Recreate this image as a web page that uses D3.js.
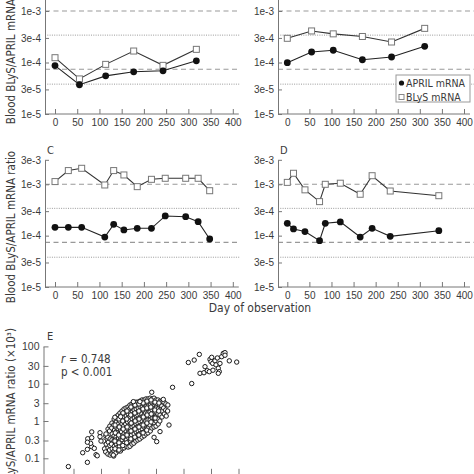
<!DOCTYPE html>
<html><head><meta charset="utf-8">
<script src="https://cdn.jsdelivr.net/npm/d3@7"></script>
<style>
html,body{margin:0;padding:0;background:#fff;}
svg{display:block;font-family:'Liberation Sans Narrow','DejaVu Sans Condensed','Liberation Sans',sans-serif;}
</style></head><body>
<svg id="chart" width="474" height="474"></svg>
<script>
// ---------- data ----------
const dayTicks = [0,50,100,150,200,250,300,350,400];
const ratioTicksTop = [1e-5,3e-5,1e-4,3e-4,1e-3];
const ratioTicksMid = [1e-5,3e-5,1e-4,3e-4,1e-3,3e-3];
const ratioTickLabels = ["1e-5","3e-5","1e-4","3e-4","1e-3","3e-3"];
const refDashed = [1e-3, 7.4e-5];
const refDotted = [3.4e-4, 3.8e-5];

const daysA  = [0,55,114,177,243,318];
const aprilA = [8.7e-5,3.7e-5,5.5e-5,6.6e-5,6.9e-5,1.08e-4];
const blysA  = [1.24e-4,4.8e-5,9.2e-5,1.67e-4,8.8e-5,1.8e-4];

const daysB  = [0,55,104,170,236,311];
const aprilB = [9.9e-5,1.6e-4,1.73e-4,1.13e-4,1.28e-4,2.06e-4];
const blysB  = [2.95e-4,4.1e-4,3.6e-4,3.2e-4,2.5e-4,4.6e-4];

const daysC  = [0,30,60,112,132,155,185,217,248,294,322,348];
const aprilC = [1.45e-4,1.45e-4,1.45e-4,9.4e-5,1.66e-4,1.29e-4,1.39e-4,1.39e-4,2.42e-4,2.34e-4,1.87e-4,8.6e-5];
const blysC  = [1.13e-3,1.85e-3,2.05e-3,9.7e-4,1.85e-3,1.52e-3,9.0e-4,1.25e-3,1.31e-3,1.31e-3,1.31e-3,7.5e-4];

const daysD  = [0,14,40,73,86,120,165,192,233,343];
const aprilD = [1.74e-4,1.35e-4,1.2e-4,8.0e-5,1.74e-4,1.85e-4,9.4e-5,1.39e-4,9.7e-5,1.25e-4];
const blysD  = [1.09e-3,1.64e-3,7.8e-4,4.6e-4,1.0e-3,1.05e-3,6.4e-4,1.47e-3,7.4e-4,6.0e-4];

const legendLabels = ["APRIL mRNA","BLyS mRNA"];
const yTitle = "Blood BLyS/APRIL mRNA ratio";
const xTitle = "Day of observation";

const scatterYTicks = [100,30,10,3,1,0.3,0.1];
const scatterXTicks = [0.01,0.1,1,10,100,1000,10000];
const scatterR = "r";
const scatterRValue = "= 0.748";
const scatterP = "p < 0.001";
const scatterPoints = [
 [0.125,0.29],[0.135,0.18],
 [0.15,0.40],[0.155,0.24],[0.148,0.148],
 [0.18,0.61],[0.175,0.37],[0.185,0.27],[0.18,0.19],[0.178,0.13],
 [0.21,0.73],[0.205,0.54],[0.215,0.33],[0.21,0.22],[0.205,0.167],[0.215,0.122],
 [0.25,0.88],[0.245,0.65],[0.255,0.45],[0.25,0.31],[0.24,0.24],[0.255,0.18],[0.25,0.13],
 [0.30,1.13],[0.29,0.78],[0.31,0.57],[0.30,0.40],[0.295,0.29],[0.305,0.21],[0.30,0.157],[0.29,0.115],
 [0.35,1.28],[0.36,0.94],[0.345,0.69],[0.355,0.51],[0.35,0.37],[0.34,0.31],[0.36,0.24],[0.35,0.18],[0.345,0.139],
 [0.42,1.45],[0.41,1.13],[0.43,0.83],[0.42,0.61],[0.41,0.48],[0.43,0.35],[0.42,0.27],[0.41,0.20],[0.43,0.157],
 [0.49,1.64],[0.5,1.28],[0.48,1.0],[0.49,0.73],[0.51,0.57],[0.48,0.45],[0.5,0.37],[0.49,0.29],[0.47,0.21],[0.51,0.157],
 [0.58,1.85],[0.57,1.45],[0.59,1.06],[0.58,0.83],[0.6,0.65],[0.56,0.51],[0.58,0.40],[0.59,0.31],[0.57,0.24],[0.58,0.18],
 [0.69,2.1],[0.68,1.64],[0.7,1.28],[0.69,0.94],[0.67,0.73],[0.71,0.57],[0.69,0.45],[0.68,0.35],[0.7,0.255],[0.69,0.19],
 [0.81,2.23],[0.8,1.74],[0.83,1.36],[0.81,1.06],[0.79,0.83],[0.82,0.65],[0.81,0.54],[0.8,0.42],[0.83,0.31],[0.81,0.21],
 [0.96,2.37],[0.94,1.97],[0.98,1.54],[0.96,1.2],[0.93,0.94],[0.97,0.73],[0.95,0.61],[0.99,0.48],[0.96,0.37],[0.94,0.27],[0.97,0.20],
 [1.13,2.68],[1.1,2.1],[1.16,1.64],[1.13,1.28],[1.11,1.0],[1.15,0.78],[1.12,0.65],[1.14,0.51],[1.1,0.40],[1.16,0.29],[1.13,0.21],
 [1.34,2.86],[1.3,2.23],[1.37,1.74],[1.33,1.45],[1.36,1.13],[1.31,0.88],[1.35,0.69],[1.34,0.54],[1.3,0.42],[1.38,0.33],[1.34,0.24],
 [1.58,3.0],[1.55,2.52],[1.6,1.97],[1.57,1.54],[1.62,1.2],[1.56,0.94],[1.59,0.73],[1.55,0.57],[1.6,0.45],[1.58,0.35],[1.56,0.255],
 [1.87,3.2],[1.83,2.52],[1.9,2.1],[1.86,1.64],[1.92,1.36],[1.85,1.06],[1.88,0.83],[1.84,0.65],[1.9,0.51],[1.87,0.37],[1.85,0.29],
 [2.2,3.2],[2.15,2.68],[2.25,2.23],[2.2,1.74],[2.17,1.45],[2.23,1.13],[2.2,0.88],[2.16,0.69],[2.24,0.54],[2.2,0.42],[2.18,0.31],
 [2.6,3.4],[2.55,2.86],[2.65,2.37],[2.6,1.85],[2.57,1.54],[2.63,1.2],[2.6,0.94],[2.55,0.73],[2.66,0.57],[2.6,0.45],[2.58,0.33],
 [3.1,3.66],[3.05,3.0],[3.15,2.37],[3.1,1.97],[3.06,1.54],[3.14,1.28],[3.1,1.0],[3.04,0.78],[3.16,0.61],[3.1,0.48],[3.08,0.37],
 [3.7,3.66],[3.6,2.86],[3.75,2.23],[3.68,1.85],[3.72,1.45],[3.65,1.13],[3.7,0.88],[3.62,0.69],[3.78,0.51],[3.7,0.40],
 [4.3,3.9],[4.2,3.2],[4.4,2.52],[4.3,1.97],[4.25,1.64],[4.35,1.28],[4.3,1.0],[4.2,0.78],[4.4,0.61],[4.3,0.45],
 [5.1,3.9],[5.0,3.0],[5.2,2.52],[5.1,2.1],[5.05,1.64],[5.15,1.36],[5.1,1.06],[5.0,0.83],[5.2,0.65],[5.1,0.48],
 [6.1,4.1],[6.0,3.4],[6.2,2.68],[6.1,2.1],[6.05,1.74],[6.15,1.36],[6.1,1.06],[6.0,0.78],[6.2,0.54],
 [7.2,3.9],[7.1,3.2],[7.3,2.52],[7.2,1.97],[7.1,1.54],[7.3,1.2],[7.2,0.94],[7.1,0.65],
 [8.5,4.1],[8.4,3.4],[8.6,2.68],[8.5,2.1],[8.4,1.64],[8.6,1.2],[8.5,0.88],[8.4,0.69],
 [10,3.66],[9.8,2.86],[10.2,2.23],[10,1.74],[9.9,1.28],[10.1,1.0],[10,0.73],
 [11.8,3.66],[11.6,2.86],[12,2.1],[11.8,1.54],[11.6,1.13],[12,0.83],
 [14,3.4],[13.7,2.68],[14.2,1.97],[14,1.45],[13.8,1.0],
 [16.5,3.4],[16.2,2.52],[16.8,1.85],[16.5,1.28],
 [19.5,3.2],[19,2.23],[20,1.54],
 [23,2.86],[22.5,1.97],[23.5,1.36],
 [27,2.68],[26.5,1.85],
 // in-between points of the dense core
 [0.325,0.78],[0.33,0.48],[0.32,0.29],[0.325,0.18],
 [0.45,1.13],[0.46,0.69],[0.44,0.42],[0.45,0.26],[0.45,0.167],
 [0.63,1.64],[0.62,1.0],[0.64,0.61],[0.63,0.37],[0.62,0.22],
 [0.88,1.85],[0.87,1.13],[0.89,0.69],[0.88,0.42],[0.86,0.26],
 [1.23,2.37],[1.21,1.45],[1.25,0.88],[1.23,0.54],[1.22,0.33],
 [1.72,2.68],[1.7,1.64],[1.74,1.0],[1.72,0.61],[1.7,0.37],
 [2.4,2.86],[2.38,1.85],[2.42,1.13],[2.4,0.69],[2.37,0.42],
 [3.4,3.04],[3.35,2.1],[3.45,1.28],[3.4,0.78],[3.38,0.48],
 [4.7,3.4],[4.65,2.23],[4.75,1.45],[4.7,0.88],[4.6,0.57],
 [6.6,3.66],[6.5,2.37],[6.7,1.54],[6.6,0.94],
 [9.2,3.2],[9.1,1.97],[9.3,1.2],
 [12.8,3.04],[12.6,1.85],
 // outliers and upper group
 [0.0065,0.060],[0.032,0.078],[0.0216,0.141],[0.032,0.174],[0.046,0.205],[0.042,0.252],
 [0.033,0.335],[0.046,0.357],[0.046,0.51],[0.092,0.485],[0.057,0.185],[0.066,0.125],
 [0.073,0.117],[0.1,0.29],[0.152,0.45],[0.32,1.26],[0.52,1.30],[1.5,3.3],[2.6,3.3],
 [0.28,0.122],[29.7,0.78],[10.6,0.28],[8.5,0.365],[14,0.52],[18.4,3.8],[7.0,5.9],
 [40,8.0],[199,10.1],[150,37],[245,43],[376,61],[398,19],[556,19.7],[605,28.6],
 [733,22.3],[867,21],[920,45],[1000,39],[1060,51],[1150,35],[1400,41],[1520,32],
 [1700,49],[1840,26],[2000,21],[1840,19],[2120,35],[2450,53],[2800,65],[3230,68],
 [3230,58],[4630,41],[8600,38],[1180,23],[0.092,0.38],[0.032,0.27]
];

// ---------- drawing ----------
const svg = d3.select("#chart");
const AX = "#777", TXT = "#3a3a3a", REF = "#999";

function ratioFmt(d){ return ratioTickLabels[ratioTicksMid.indexOf(d)]; }

function drawPanel(p){
  const x = d3.scaleLinear().domain([0,400]).range([p.x0, p.x400]);
  const y = d3.scaleLog().domain([1e-5,3e-3]).range([p.yBase, p.yBase - p.dec*Math.log10(300)]);
  const g = svg.append("g");
  g.selectAll("line.dash").data(refDashed).join("line")
    .attr("x1", p.axisX).attr("x2", p.right).attr("y1", d=>y(d)).attr("y2", d=>y(d))
    .attr("stroke", REF).attr("stroke-width", 1.1).attr("stroke-dasharray","5,3.5");
  g.selectAll("line.dot").data(refDotted).join("line")
    .attr("x1", p.axisX).attr("x2", p.right).attr("y1", d=>y(d)).attr("y2", d=>y(d))
    .attr("stroke", REF).attr("stroke-width", 1).attr("stroke-dasharray","1,1.3");
  const ya = g.append("g").attr("transform",`translate(${p.axisX},0)`)
    .call(d3.axisLeft(y).tickValues(p.ticks).tickFormat(ratioFmt).tickSize(-4).tickSizeOuter(0).tickPadding(4));
  const xa = g.append("g").attr("transform",`translate(0,${p.yBase})`)
    .call(d3.axisBottom(x).tickValues(dayTicks).tickSize(-5).tickSizeOuter(0).tickPadding(5));
  xa.select(".domain").remove();
  g.append("line").attr("x1",p.axisX).attr("x2",x(400)+6).attr("y1",p.yBase).attr("y2",p.yBase).attr("stroke",AX);
  [ya,xa].forEach(a=>{
    a.selectAll("path,line").attr("stroke",AX);
    a.selectAll("text").attr("fill",TXT).attr("font-size","10px");
  });
  const pts = (days, vals) => days.map((d,i)=>[x(d), y(vals[i])]);
  const lineGen = d3.line();
  g.append("path").attr("d", lineGen(pts(p.days,p.blys))).attr("fill","none").attr("stroke","#333").attr("stroke-width",1.1);
  g.append("path").attr("d", lineGen(pts(p.days,p.april))).attr("fill","none").attr("stroke","#222").attr("stroke-width",1.1);
  g.selectAll("rect.sq").data(p.days).join("rect")
    .attr("x",(d,i)=>x(d)-3).attr("y",(d,i)=>y(p.blys[i])-3).attr("width",6).attr("height",6)
    .attr("fill","#fff").attr("stroke","#777").attr("stroke-width",1);
  g.selectAll("circle.dt").data(p.days).join("circle")
    .attr("cx",d=>x(d)).attr("cy",(d,i)=>y(p.april[i])).attr("r",3.4).attr("fill","#111");
  if(p.label){
    g.append("text").attr("x",p.axisX+2).attr("y",p.yBase - p.dec*Math.log10(300) - 6)
      .attr("font-size","11px").attr("fill",TXT).text(p.label);
  }
}

drawPanel({days:daysA, april:aprilA, blys:blysA, ticks:ratioTicksTop, x0:55, x400:232.8, axisX:45, right:240, yBase:114, dec:51.5, label:null});
drawPanel({days:daysB, april:aprilB, blys:blysB, ticks:ratioTicksTop, x0:287.3, x400:464, axisX:278, right:474, yBase:114, dec:51.5, label:null});
drawPanel({days:daysC, april:aprilC, blys:blysC, ticks:ratioTicksMid, x0:55, x400:232.8, axisX:45, right:240, yBase:287, dec:51.35, label:"C"});
drawPanel({days:daysD, april:aprilD, blys:blysD, ticks:ratioTicksMid, x0:287.3, x400:464, axisX:278, right:474, yBase:287, dec:51.35, label:"D"});

// legend (panel B)
const lg = svg.append("g");
lg.append("rect").attr("x",396).attr("y",75).attr("width",74).attr("height",27)
  .attr("fill","#fff").attr("stroke","#999").attr("stroke-width",1);
lg.append("circle").attr("cx",401.5).attr("cy",83).attr("r",2.6).attr("fill","#111");
lg.append("rect").attr("x",399).attr("y",94.5).attr("width",5).attr("height",5).attr("fill","#fff").attr("stroke","#888");
lg.selectAll("text").data(legendLabels).join("text")
  .attr("x",406).attr("y",(d,i)=>87+i*14).attr("font-size","10.5px").attr("fill",TXT).text(d=>d);

// titles
svg.append("text").attr("transform","translate(15,48) rotate(-90)").attr("text-anchor","middle")
  .attr("font-size","11.5px").attr("fill",TXT).text(yTitle);
svg.append("text").attr("transform","translate(15,227) rotate(-90)").attr("text-anchor","middle")
  .attr("font-size","11.5px").attr("fill",TXT).text(yTitle);
svg.append("text").attr("x",260).attr("y",312).attr("text-anchor","middle")
  .attr("font-size","12px").attr("fill",TXT).text(xTitle);

// ---------- panel E ----------
const ex = d3.scaleLog().domain([1e-3,1e4]).range([46,238.5]);
const ey = d3.scaleLog().domain([0.03,100]).range([421+37.3*Math.log10(1/0.03), 421-37.3*2]);
const eg = svg.append("g");
const eya = eg.append("g").attr("transform","translate(43.5,0)")
  .call(d3.axisLeft(ey).tickValues(scatterYTicks).tickFormat(d=>String(d)).tickSize(-5).tickSizeOuter(0).tickPadding(4));
const exa = eg.append("g").attr("transform",`translate(0,${ey(0.03)})`)
  .call(d3.axisBottom(ex).tickValues(scatterXTicks).tickFormat("").tickSize(-9).tickSizeOuter(0));
[eya,exa].forEach(a=>{
  a.selectAll("path,line").attr("stroke",AX);
  a.selectAll("text").attr("fill",TXT).attr("font-size","10.5px");
});
eg.selectAll("circle").data(scatterPoints).join("circle")
  .attr("cx",d=>ex(d[0])).attr("cy",d=>ey(d[1])).attr("r",2.2)
  .attr("fill","#fff").attr("stroke","#1a1a1a").attr("stroke-width",1);
eg.append("text").attr("x",47).attr("y",340).attr("font-size","11px").attr("fill",TXT).text("E");
eg.append("text").attr("x",61).attr("y",363).attr("font-size","11.5px").attr("font-style","italic").attr("fill",TXT).text(scatterR);
eg.append("text").attr("x",69).attr("y",363).attr("font-size","11.5px").attr("fill",TXT).text(scatterRValue);
eg.append("text").attr("x",61).attr("y",376).attr("font-size","11.5px").attr("fill",TXT).text(scatterP);
svg.append("text").attr("transform","translate(15,328) rotate(-90)").attr("text-anchor","end")
  .attr("font-size","11.5px").attr("fill",TXT).text(yTitle + " (×10³)");
</script></body></html>
